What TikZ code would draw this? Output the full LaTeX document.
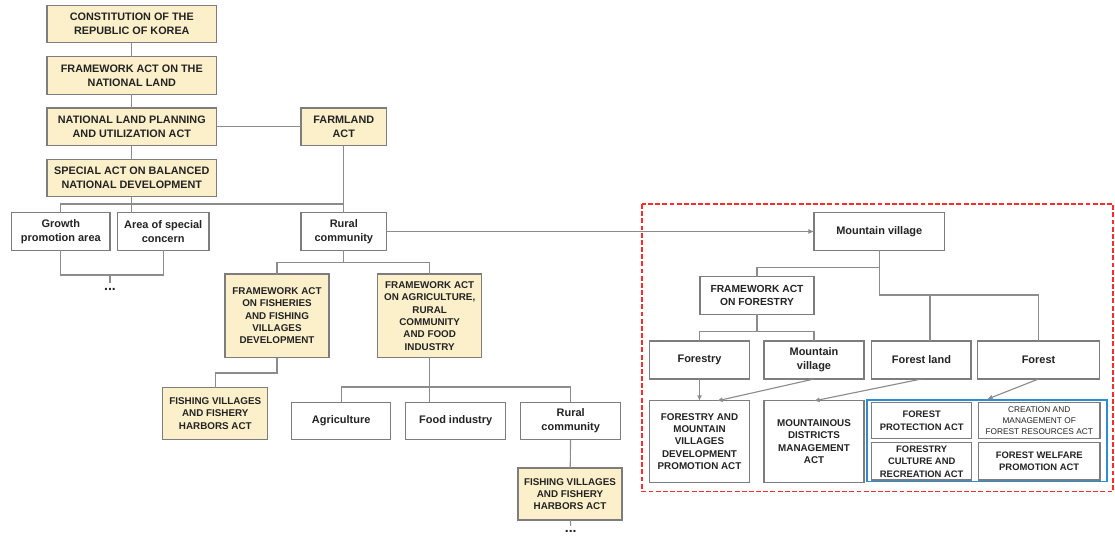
\documentclass[tikz,border=0pt]{standalone}
\usepackage{fontspec}
\setmainfont{Liberation Sans}
\usetikzlibrary{arrows.meta,positioning,calc}

\definecolor{lawfill}{RGB}{252,240,203}
\definecolor{edgegray}{RGB}{125,125,125}
\definecolor{linkgray}{RGB}{140,140,140}
\definecolor{txtgray}{RGB}{35,35,35}
\definecolor{zonered}{RGB}{250,45,45}
\definecolor{groupblue}{RGB}{45,140,210}

\begin{document}
\begin{tikzpicture}[
  x=0.025cm, y=-0.025cm,
  box/.style={rectangle, draw=edgegray, line width=0.8pt, fill=white, inner sep=0pt, outer sep=0pt,
    minimum width=2.5cm, minimum height=0.93cm, align=center, text=txtgray,
    font=\fontsize{7}{8.8}\selectfont\bfseries},
  law/.style={box, fill=lawfill},
  toplaw/.style={law, minimum width=4.24cm, minimum height=0.94cm, font=\fontsize{7.7}{10}\selectfont\bfseries},
  term/.style={box, font=\fontsize{7.8}{9.8}\selectfont\bfseries},
  small/.style={box, minimum width=2.5cm, font=\fontsize{6.7}{8.9}\selectfont\bfseries},
  dots/.style={inner xsep=0pt, inner ysep=3pt, text=txtgray, font=\fontsize{10}{10}\selectfont\bfseries},
  link/.style={draw=linkgray, line width=0.8pt},
  arrow/.style={link, -{Latex[length=4pt,width=3.6pt]}},
  zone/.style={draw=zonered, line width=1.3pt, dash pattern=on 3.5pt off 1.6pt}
]
\useasboundingbox (0,0) rectangle (1115,536);

% national land laws
\node[toplaw] (const) at (131.8,24) {CONSTITUTION OF THE\\REPUBLIC OF KOREA};
\node[toplaw] (fwland) at (131.8,75.5) {FRAMEWORK ACT ON THE\\NATIONAL LAND};
\node[toplaw] (nlpu) at (131.8,126.8) {NATIONAL LAND PLANNING\\AND UTILIZATION ACT};
\node[toplaw] (special) at (131.8,178) {SPECIAL ACT ON BALANCED\\NATIONAL DEVELOPMENT};
\node[toplaw, minimum width=2.14cm] (farmland) at (343.8,126.8) {FARMLAND\\ACT};

\node[term, minimum width=2.46cm] (growth) at (60.8,231.5) {Growth\\promotion area};
\node[term, minimum width=2.29cm] (concern) at (163.2,231.5) {Area of special\\concern};
\node[term, minimum width=2.14cm] (rural) at (343.8,231.5) {Rural\\community};
\node[dots] (etc1) at (110,289) {...};

% rural community branch
\node[law, minimum width=2.6cm, minimum height=2.09cm] (fishfw) at (277,315.8) {FRAMEWORK ACT\\ON FISHERIES\\AND FISHING\\VILLAGES\\DEVELOPMENT};
\node[law, minimum width=2.6cm, minimum height=2.09cm] (agrifw) at (429.7,315.8) {FRAMEWORK ACT\\ON AGRICULTURE,\\RURAL\\COMMUNITY\\AND FOOD\\INDUSTRY};
\node[law, minimum width=2.62cm, minimum height=1.28cm] (fishvil) at (215.3,413.5) {FISHING VILLAGES\\AND FISHERY\\HARBORS ACT};
\node[term, minimum width=2.48cm] (agri) at (341.2,420.7) {Agriculture};
\node[term] (food) at (455.7,420.7) {Food industry};
\node[term] (rural2) at (570.7,420.7) {Rural\\community};
\node[law, minimum width=2.6cm, minimum height=1.3cm] (fishvil2) at (570,494) {FISHING VILLAGES\\AND FISHERY\\HARBORS ACT};
\node[dots] (etc2) at (570.7,531.5) {...};

% mountain village branch
\node[term, minimum width=3.26cm] (mv) at (879.2,231.5) {Mountain village};
\node[box, minimum width=2.85cm, font=\fontsize{7.3}{9.4}\selectfont\bfseries] (fwfor) at (757,295.5) {FRAMEWORK ACT\\ON FORESTRY};
\node[term, minimum width=2.48cm, minimum height=0.95cm] (forestry) at (699.5,360) {Forestry};
\node[term, minimum height=0.95cm] (mvsmall) at (814,360) {Mountain\\village};
\node[term, minimum width=2.48cm, minimum height=0.95cm] (forestland) at (921.4,360) {Forest land};
\node[term, minimum width=3.04cm, minimum height=0.95cm] (forest) at (1038.5,360) {Forest};
\node[box, minimum width=2.48cm, minimum height=2.03cm] (fmvdp) at (699.5,441.5) {FORESTRY AND\\MOUNTAIN\\VILLAGES\\DEVELOPMENT\\PROMOTION ACT};
\node[box, minimum height=2.03cm] (mdm) at (814,441.5) {MOUNTAINOUS\\DISTRICTS\\MANAGEMENT\\ACT};

\node[draw=groupblue, line width=1.1pt, inner sep=0pt, minimum width=5.99cm, minimum height=2.04cm] (forestacts) at (987,440.85) {};
\node[small, minimum height=0.89cm] (protect) at (921.7,420.5) {FOREST\\PROTECTION ACT};
\node[small, minimum width=3.04cm, minimum height=0.89cm, font=\fontsize{5.9}{7.6}\selectfont] (creation) at (1039.2,420.5) {CREATION AND\\MANAGEMENT OF\\FOREST RESOURCES ACT};
\node[small] (culture) at (921.7,461.4) {FORESTRY\\CULTURE AND\\RECREATION ACT};
\node[small, minimum width=3.04cm] (welfare) at (1039.2,461.4) {FOREST WELFARE\\PROMOTION ACT};

\draw[zone] (642,204) rectangle (1113,491.5);

% junctions
\coordinate (landbus) at (343.8,204);
\coordinate (etcfork) at (110,275);
\coordinate (ruralfork) at (343.8,262.7);
\coordinate (fishfork) at (277,373);
\coordinate (agrifork) at (429.7,387);
\coordinate (mvfork) at (879.2,267.5);
\coordinate (mvbus) at (879.2,295);
\coordinate (landfork) at (930,295);
\coordinate (forfork) at (757,331.7);

\draw[link] (const) -- (fwland);
\draw[link] (fwland) -- (nlpu);
\draw[link] (nlpu) -- (special);
\draw[link] (nlpu) -- (farmland);
\draw[link] (farmland) -- (rural);
\draw[link] (special) -- (special |- concern.north);
\draw[link] (growth.north) |- (landbus);
\draw[link] (growth.south) |- (etcfork) -| (concern.south);
\draw[link] (etcfork) -- (etc1);

\draw[link] (rural) -- (ruralfork);
\draw[link] (fishfw.north) |- (ruralfork) -| (agrifw.north);
\draw[link] (fishfw) -- (fishfork) -| (fishvil.north);
\draw[link] (agrifw) -- (agrifw |- food.north);
\draw[link] (agri.north) |- (agrifork) -| (rural2.north);
\draw[link] (rural2) -- (fishvil2);
\draw[link] (fishvil2) -- (etc2);

\draw[arrow] (rural) -- (mv);
\draw[link] (mv) -- (mvbus) -| (forest.north);
\draw[link] (fwfor.north) |- (mvfork);
\draw[link] (landfork) -- (landfork |- forestland.north);
\draw[link] (fwfor) -- (forfork);
\draw[link] (forestry.north) |- (forfork) -| (mvsmall.north);

\draw[arrow] (forestry) -- (fmvdp);
\draw[arrow] (mvsmall.south) -- ($(fmvdp.north)+(17.5,0)$);
\draw[arrow] (forestland.south) -- (mdm.north);
\draw[arrow] (forest.south) -- (forestacts.north);

\end{tikzpicture}
\end{document}
